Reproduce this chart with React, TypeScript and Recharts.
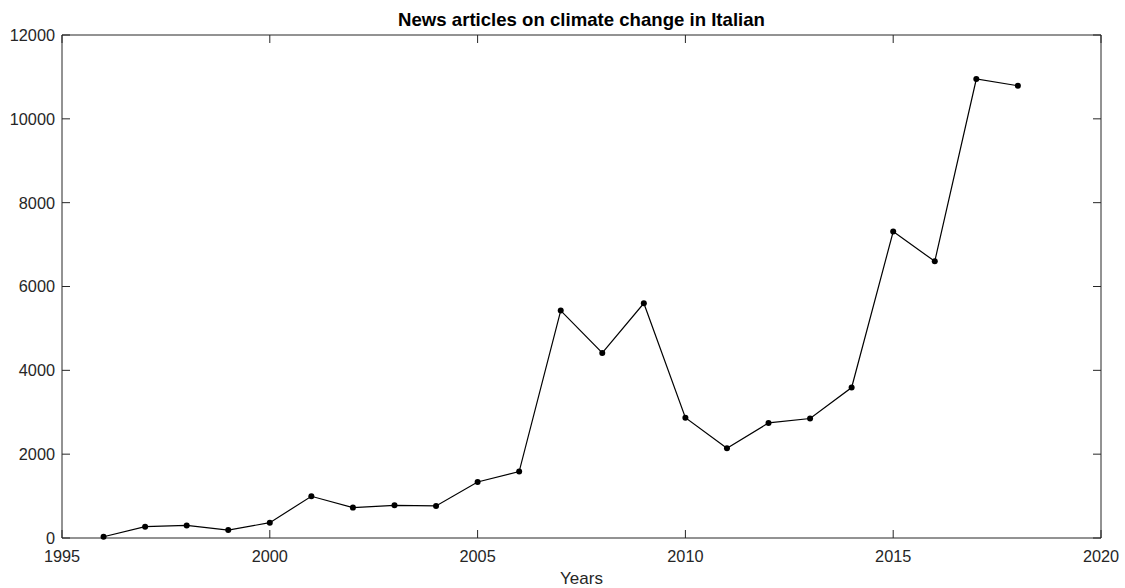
import React from 'react';
import { LineChart, Line, XAxis, YAxis } from 'recharts';

const years = [1996, 1997, 1998, 1999, 2000, 2001, 2002, 2003, 2004, 2005, 2006, 2007, 2008, 2009, 2010, 2011, 2012, 2013, 2014, 2015, 2016, 2017, 2018];
const articles = [30, 270, 300, 190, 365, 995, 725, 780, 765, 1335, 1585, 5425, 4415, 5600, 2870, 2140, 2745, 2850, 3590, 7310, 6600, 10950, 10790];
const xTicks = [1995, 2000, 2005, 2010, 2015, 2020];
const yTicks = [0, 2000, 4000, 6000, 8000, 10000, 12000];

const chartData = years.map((year, i) => ({ year, value: articles[i] }));

const FONT = '"Liberation Sans", Arial, sans-serif';
const AXIS = '#262626';
const TICK = 8;

// MATLAB-style ticks: marks point into the plot, labels sit outside
const BottomTick = ({ x, y, payload }: any) => (
  <g>
    <line x1={x} y1={y} x2={x} y2={y - TICK} stroke={AXIS} strokeWidth={1} />
    <text x={x} y={y + 24} textAnchor="middle" fill={AXIS} fontSize={16.3} fontFamily={FONT}>{payload.value}</text>
  </g>
);

const TopTick = ({ x, y }: any) => (
  <line x1={x} y1={y} x2={x} y2={y + TICK} stroke={AXIS} strokeWidth={1} />
);

const LeftTick = ({ x, y, payload }: any) => (
  <g>
    <line x1={x} y1={y} x2={x + TICK} y2={y} stroke={AXIS} strokeWidth={1} />
    <text x={x - 7} y={y} dy="0.36em" textAnchor="end" fill={AXIS} fontSize={16.3} fontFamily={FONT}>{payload.value}</text>
  </g>
);

const RightTick = ({ x, y }: any) => (
  <line x1={x} y1={y} x2={x - TICK} y2={y} stroke={AXIS} strokeWidth={1} />
);

export default function App() {
  return (
    <div style={{ position: 'absolute', left: 0, top: 0, width: 1125, height: 588, background: '#fff', fontFamily: FONT }}>
      <LineChart width={1125} height={588} data={chartData} margin={{ top: 0, right: 0, bottom: 0, left: 0 }}>
        <XAxis
          dataKey="year"
          type="number"
          domain={[1995, 2020]}
          ticks={xTicks}
          height={50}
          stroke={AXIS}
          tickLine={false}
          tickSize={0}
          tickMargin={0}
          tick={<BottomTick />}
          interval={0}
        />
        <XAxis
          xAxisId="top"
          orientation="top"
          dataKey="year"
          type="number"
          domain={[1995, 2020]}
          ticks={xTicks}
          height={35}
          stroke={AXIS}
          tickLine={false}
          tickSize={0}
          tickMargin={0}
          tick={<TopTick />}
          interval={0}
        />
        <YAxis
          type="number"
          domain={[0, 12000]}
          ticks={yTicks}
          width={62}
          stroke={AXIS}
          tickLine={false}
          tickSize={0}
          tickMargin={0}
          tick={<LeftTick />}
          interval={0}
        />
        <YAxis
          yAxisId="right"
          orientation="right"
          type="number"
          domain={[0, 12000]}
          ticks={yTicks}
          width={24}
          stroke={AXIS}
          tickLine={false}
          tickSize={0}
          tickMargin={0}
          tick={<RightTick />}
          interval={0}
        />
        <Line
          xAxisId="top"
          yAxisId="right"
          dataKey="value"
          stroke="none"
          dot={false}
          activeDot={false}
          legendType="none"
          isAnimationActive={false}
        />
        <Line
          dataKey="value"
          stroke="#000"
          strokeWidth={1.2}
          dot={{ r: 3, fill: '#000', stroke: '#000', strokeWidth: 0 }}
          isAnimationActive={false}
        />
      </LineChart>
      <div style={{ position: 'absolute', left: 62, width: 1039, top: 9, textAlign: 'center', fontSize: 18.6, fontWeight: 'bold', color: '#000' }}>
        News articles on climate change in Italian
      </div>
      <div style={{ position: 'absolute', left: 62, width: 1039, top: 569, textAlign: 'center', fontSize: 17, color: AXIS }}>
        Years
      </div>
    </div>
  );
}
